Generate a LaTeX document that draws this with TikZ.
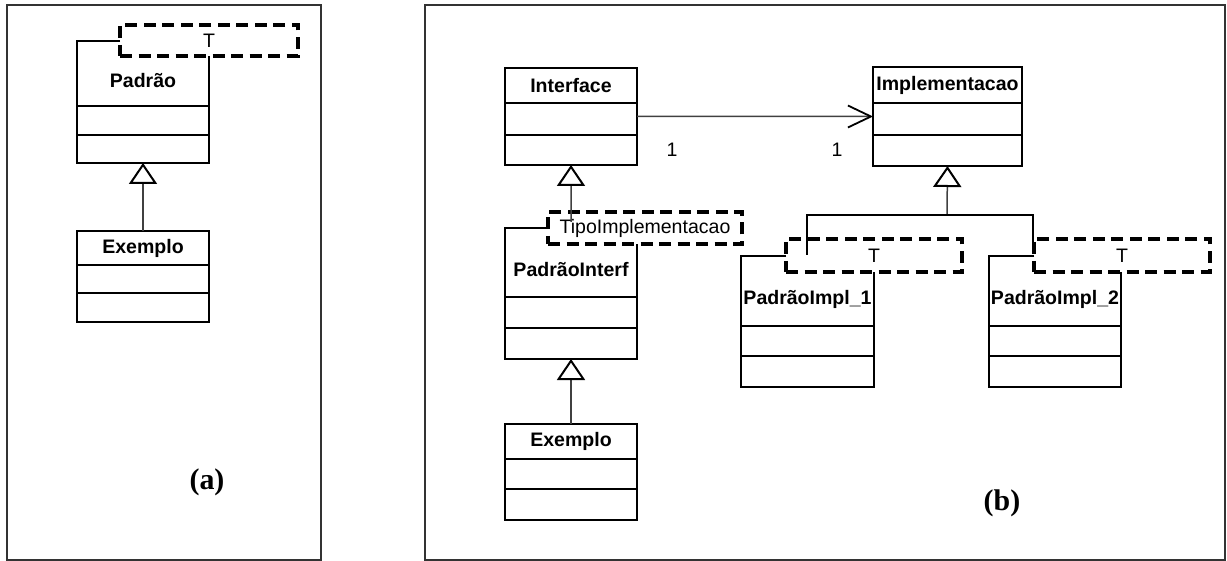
\documentclass[tikz,border=0pt]{standalone}
\usepackage{fontspec}
\setmainfont{Liberation Sans}
\newfontfamily\captionfont{Liberation Serif}
\usetikzlibrary{arrows.meta}

\begin{document}
\begin{tikzpicture}[x=1bp,y=-1bp,
  frame/.style={draw=black!80, line width=2.6bp},
  outline/.style={draw=black, line width=2.3bp},
  compart/.style={draw=black, line width=2.1bp},
  body/.style={inner sep=0pt, outer sep=0pt, anchor=north west},
  tpl/.style={draw=black, line width=3.2bp, dash pattern=on 12bp off 6.5bp,
    inner sep=0pt, outer sep=0pt, anchor=north west,
    font=\fontsize{19.6}{23}\selectfont},
  cname/.style={font=\fontsize{19.6}{23}\selectfont\bfseries, inner sep=0pt},
  mult/.style={font=\fontsize{19.6}{23}\selectfont, inner sep=0pt},
  gen/.style={draw=black!75, line width=1.5bp,
    -{Triangle[open, length=21bp, width=28bp, color=black, line width=2bp]}},
  assoc/.style={draw=black!75, line width=1.5bp,
    -{Straight Barb[length=23bp, width=22bp, color=black, line width=1.8bp]}},
  tree/.style={draw=black, line width=1.9bp},
  caption/.style={font=\captionfont\fontsize{30}{34}\selectfont\bfseries, inner sep=0pt}]

\useasboundingbox (0,0) rectangle (1227,561);

% panel frames
\draw[frame] (7,5) rectangle (321,560);
\draw[frame] (425,5) rectangle (1225,560);

% ---------- panel (a) ----------
\node[body, minimum width=132bp, minimum height=122bp] (pa) at (77,41) {};
\node[tpl, minimum width=178bp, minimum height=31bp] (pat) at (120,25) {T};
\draw[outline] (pat.west |- pa.north) -- (pa.north west) -- (pa.south west)
  -- (pa.south east) -- (pa.east |- pat.south);
\draw[compart] (pa.west |- 0,106) -- (pa.east |- 0,106);
\draw[compart] (pa.west |- 0,135) -- (pa.east |- 0,135);
\node[cname] (pan) at (143,81) {Padrão};

\node[body, outline, minimum width=132bp, minimum height=91bp] (ea) at (77,231) {};
\draw[compart] (ea.west |- 0,265) -- (ea.east |- 0,265);
\draw[compart] (ea.west |- 0,293) -- (ea.east |- 0,293);
\node[cname] (ean) at (143,248) {Exemplo};

\draw[gen] (ea.north) -- (pa.south);

\node[caption] (capa) at (207,482) {(a)};

% ---------- panel (b) ----------
% Interface
\node[body, outline, minimum width=132bp, minimum height=97bp] (iface) at (505,68) {};
\draw[compart] (iface.west |- 0,103) -- (iface.east |- 0,103);
\draw[compart] (iface.west |- 0,135) -- (iface.east |- 0,135);
\node[cname] (ifacen) at (571,86) {Interface};

% Implementacao
\node[body, outline, minimum width=149bp, minimum height=99bp] (impl) at (873,67) {};
\draw[compart] (impl.west |- 0,103) -- (impl.east |- 0,103);
\draw[compart] (impl.west |- 0,135) -- (impl.east |- 0,135);
\node[cname] (impln) at (947.5,85) {Implementacao};

% association
\draw[assoc] (iface.east) -- (impl.west);
\node[mult] (m1) at (672,150) {1};
\node[mult] (m2) at (837,150) {1};

% PadrãoInterf
\node[body, minimum width=132bp, minimum height=131bp] (pib) at (505,228) {};
\node[tpl, minimum width=194bp, minimum height=32bp] (pibt) at (548,212) {TipoImplementacao};
\draw[outline] (pibt.west |- pib.north) -- (pib.north west) -- (pib.south west)
  -- (pib.south east) -- (pib.east |- pibt.south);
\draw[compart] (pib.west |- 0,297) -- (pib.east |- 0,297);
\draw[compart] (pib.west |- 0,328) -- (pib.east |- 0,328);
\node[cname] (pibn) at (571,270) {PadrãoInterf};

\coordinate (pibtop) at (571,222);
\draw[gen] (pibtop) -- (iface.south);

% Exemplo (b)
\node[body, outline, minimum width=132bp, minimum height=96bp] (eb) at (505,424) {};
\draw[compart] (eb.west |- 0,459) -- (eb.east |- 0,459);
\draw[compart] (eb.west |- 0,489) -- (eb.east |- 0,489);
\node[cname] (ebn) at (571,441) {Exemplo};

\draw[gen] (eb.north) -- (pib.south);

% PadrãoImpl_1
\node[body, minimum width=133bp, minimum height=131bp] (pi1) at (741,256) {};
\node[tpl, minimum width=176bp, minimum height=33bp] (pi1t) at (786,239) {T};
\draw[outline] (pi1t.west |- pi1.north) -- (pi1.north west) -- (pi1.south west)
  -- (pi1.south east) -- (pi1.east |- pi1t.south);
\draw[compart] (pi1.west |- 0,326) -- (pi1.east |- 0,326);
\draw[compart] (pi1.west |- 0,356) -- (pi1.east |- 0,356);
\node[cname] (pi1n) at (807.5,299) {PadrãoImpl\_1};

% PadrãoImpl_2
\node[body, minimum width=132bp, minimum height=131bp] (pi2) at (989,256) {};
\node[tpl, minimum width=176bp, minimum height=33bp] (pi2t) at (1034,239) {T};
\draw[outline] (pi2t.west |- pi2.north) -- (pi2.north west) -- (pi2.south west)
  -- (pi2.south east) -- (pi2.east |- pi2t.south);
\draw[compart] (pi2.west |- 0,326) -- (pi2.east |- 0,326);
\draw[compart] (pi2.west |- 0,356) -- (pi2.east |- 0,356);
\node[cname] (pi2n) at (1055,299) {PadrãoImpl\_2};

% generalisation tree towards Implementacao
\coordinate (jn) at (947,215);
\coordinate (j1) at (807,215);
\coordinate (j2) at (1033,215);
\coordinate (e1) at (807,255);
\coordinate (e2) at (1033,253);
\draw[gen] (jn) -- (impl.south);
\draw[tree] (e1) -- (j1) -- (j2) -- (e2);

\node[caption] (capb) at (1002,503) {(b)};
\end{tikzpicture}
\end{document}
